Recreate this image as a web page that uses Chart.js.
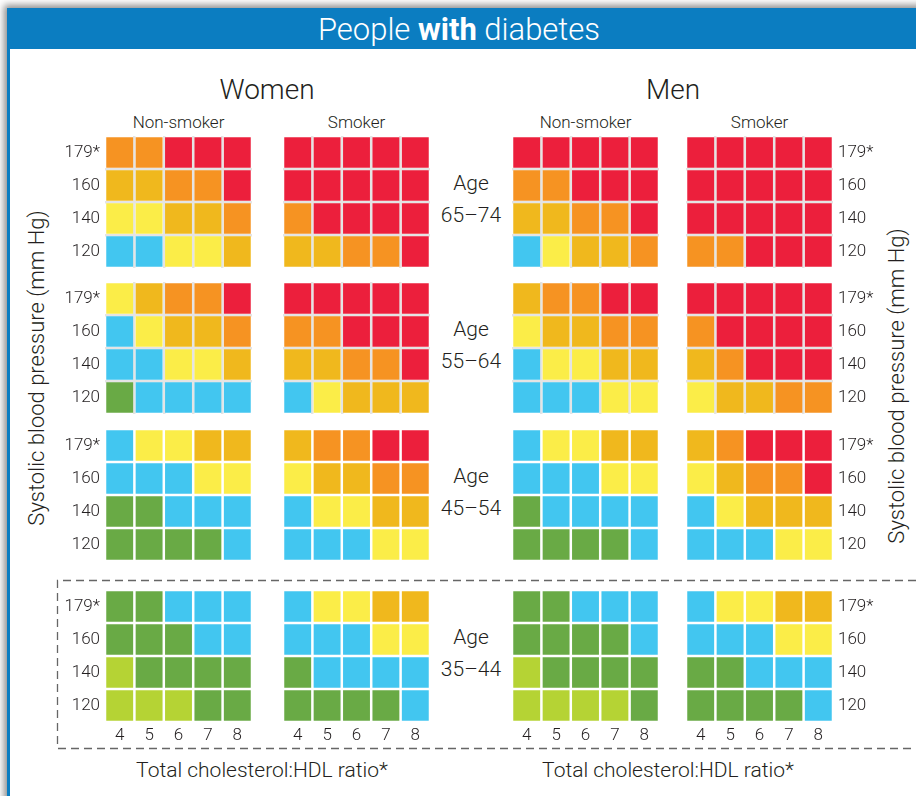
<!DOCTYPE html>
<html><head><meta charset="utf-8">
<script src="https://cdn.jsdelivr.net/npm/chart.js@4"></script>
<style>
html,body{margin:0;padding:0;background:#fff;width:916px;height:796px;overflow:hidden;font-family:Roboto,'Liberation Sans',sans-serif;font-weight:300;color:#231f20}
.card{position:absolute;left:7px;top:8px;width:1000px;height:900px;background:#fff;border-left:3px solid #0b7dc1;box-shadow:-3px -3px 7px rgba(0,0,0,0.45)}
.hdr{position:absolute;left:7px;top:8px;width:1000px;height:41px;background:#0b7dc1}
.t{position:absolute;white-space:nowrap;transform:translate(-50%,-50%);line-height:1}
.box{position:absolute}
</style></head><body>
<div class="card"></div>
<div class="hdr"></div>
<div id="texts"></div>
<svg width="916" height="796" style="position:absolute;left:0;top:0">
  <path d="M916,580.5 H57.5 V748.5 H916" fill="none" stroke="#666" stroke-width="1.3" stroke-dasharray="8 5"/>
</svg>
<div id="charts"></div>
<script>
// ---- data ----
const colLabels = ['4','5','6','7','8'];            // total cholesterol:HDL ratio
const bpLabels = ['179*','160','140','120'];         // systolic BP, top to bottom
const ageGroups = ['65–74','55–64','45–54','35–44'];
const sexes = ['Women','Men'];
const smoking = ['Non-smoker','Smoker'];
// risk level colours: 0 light green .. 6 red
const riskColors = ['#b5d334','#69aa45','#42c6f0','#fbed48','#f0b81d','#f69322','#ec1f3c'];

// risk levels, rows top (179*) to bottom (120), columns 4..8
const women_nonsmoker_65_74 = [[5,5,6,6,6],[4,4,5,5,6],[3,3,4,4,5],[2,2,3,3,4]];
const women_smoker_65_74    = [[6,6,6,6,6],[6,6,6,6,6],[5,6,6,6,6],[4,4,5,5,6]];
const men_nonsmoker_65_74   = [[6,6,6,6,6],[5,5,6,6,6],[4,4,5,5,6],[2,3,4,4,5]];
const men_smoker_65_74      = [[6,6,6,6,6],[6,6,6,6,6],[6,6,6,6,6],[5,5,6,6,6]];

const women_nonsmoker_55_64 = [[3,4,5,5,6],[2,3,4,4,5],[2,2,3,3,4],[1,2,2,2,2]];
const women_smoker_55_64    = [[6,6,6,6,6],[5,5,6,6,6],[4,4,5,5,6],[2,3,4,4,4]];
const men_nonsmoker_55_64   = [[4,5,5,6,6],[3,4,4,5,5],[2,3,3,4,4],[2,2,2,3,3]];
const men_smoker_55_64      = [[6,6,6,6,6],[5,6,6,6,6],[4,5,6,6,6],[3,4,4,5,5]];

const women_nonsmoker_45_54 = [[2,3,3,4,4],[2,2,2,3,3],[1,1,2,2,2],[1,1,1,1,2]];
const women_smoker_45_54    = [[4,5,5,6,6],[3,4,4,5,5],[2,3,3,4,4],[2,2,2,3,3]];
const men_nonsmoker_45_54   = [[2,3,3,4,4],[2,2,2,3,3],[1,2,2,2,2],[1,1,1,1,2]];
const men_smoker_45_54      = [[4,5,6,6,6],[3,4,5,5,6],[2,3,4,4,4],[2,2,2,3,3]];

const women_nonsmoker_35_44 = [[1,1,2,2,2],[1,1,1,2,2],[0,1,1,1,1],[0,0,0,1,1]];
const women_smoker_35_44    = [[2,3,3,4,4],[2,2,2,3,3],[1,2,2,2,2],[1,1,1,1,2]];
const men_nonsmoker_35_44   = [[1,1,2,2,2],[1,1,1,1,2],[0,1,1,1,1],[0,0,0,0,1]];
const men_smoker_35_44      = [[2,3,3,4,4],[2,2,2,3,3],[1,1,2,2,2],[1,1,1,1,2]];

const panelRows = [
  [women_nonsmoker_65_74, women_smoker_65_74, men_nonsmoker_65_74, men_smoker_65_74],
  [women_nonsmoker_55_64, women_smoker_55_64, men_nonsmoker_55_64, men_smoker_55_64],
  [women_nonsmoker_45_54, women_smoker_45_54, men_nonsmoker_45_54, men_smoker_45_54],
  [women_nonsmoker_35_44, women_smoker_35_44, men_nonsmoker_35_44, men_smoker_35_44]
];

// ---- layout ----
const gridX = [105, 283, 512, 686];
const gridY = [136, 282, 429, 590];
const GW = 147, GH = 132, AX = 60, BOT = 30, TOP = 4;
const FONT = "Roboto, 'Liberation Sans', sans-serif";
const TXT = '#231f20';

function addText(txt, x, y, size, extra) {
  const d = document.createElement('div');
  d.className = 't';
  d.style.left = x + 'px'; d.style.top = y + 'px'; d.style.fontSize = size + 'px';
  if (extra) Object.assign(d.style, extra);
  d.innerHTML = txt;
  document.getElementById('texts').appendChild(d);
}
addText('People <b style="font-weight:700">with</b> diabetes', 459, 29, 31, {color:'#fff'});
addText(sexes[0], 267, 90, 28);
addText(sexes[1], 673, 90, 28);
addText(smoking[0], gridX[0] + GW/2, 122, 17);
addText(smoking[1], gridX[1] + GW/2, 122, 17);
addText(smoking[0], gridX[2] + GW/2, 122, 17);
addText(smoking[1], gridX[3] + GW/2, 122, 17);
ageGroups.forEach((a, i) => {
  const c = gridY[i] + GH/2;
  addText('Age', 471, c - 19, 21);
  addText(a, 471, c + 13, 21);
});
addText('Systolic blood pressure (mm Hg)', 37, 368, 22, {transform:'translate(-50%,-50%) rotate(-90deg)'});
addText('Systolic blood pressure (mm Hg)', 897, 386, 22, {transform:'translate(-50%,-50%) rotate(-90deg)'});
addText('Total cholesterol:HDL ratio*', 262, 770, 21);
addText('Total cholesterol:HDL ratio*', 668, 770, 21);

Chart.defaults.animation = false;
const g = 0.038;

function makeChart(levels, col, row) {
  const leftAxis = col !== 3;
  const showY = col === 0 || col === 3;
  const showX = row === 3;
  const gapColor = row < 2 ? '#e4e4e4' : 'rgba(0,0,0,0)';
  const wrap = document.createElement('div');
  wrap.className = 'box';
  const W = AX + GW + AX, H = TOP + GH + BOT;
  wrap.style.left = (gridX[col] - AX) + 'px';
  wrap.style.top = (gridY[row] - TOP) + 'px';
  wrap.style.width = W + 'px'; wrap.style.height = H + 'px';
  const cv = document.createElement('canvas');
  cv.width = W; cv.height = H;
  cv.style.width = W + 'px'; cv.style.height = H + 'px';
  wrap.appendChild(cv);
  document.getElementById('charts').appendChild(wrap);

  const datasets = [];
  for (let r = 0; r < 4; r++) {
    const rowLevels = levels[3 - r];
    datasets.push({
      data: rowLevels.map(() => [r + g, r + 1 - g]),
      backgroundColor: rowLevels.map(l => riskColors[l]),
      borderWidth: 0,
      grouped: false,
      barPercentage: 1,
      categoryPercentage: 0.915
    });
  }
  const noPad = s => { s.paddingTop = 0; s.paddingBottom = 0; s.paddingLeft = 0; s.paddingRight = 0; };
  new Chart(cv, {
    type: 'bar',
    data: { labels: colLabels, datasets },
    options: {
      responsive: false,
      devicePixelRatio: 1,
      layout: { padding: { top: TOP, bottom: 0, left: leftAxis ? 0 : AX, right: leftAxis ? AX : 0 } },
      plugins: { legend: { display: false }, tooltip: { enabled: false }, title: { display: false } },
      scales: {
        x: {
          type: 'category', offset: true,
          grid: { offset: true, drawTicks: false, lineWidth: 2.5,
                  color: ctx => (ctx.type === 'tick' && ctx.index > 0) ? gapColor : 'rgba(0,0,0,0)' },
          border: { display: false },
          ticks: { display: showX, padding: 4, color: TXT, maxRotation: 0, font: { family: FONT, size: 17, weight: '300' } },
          afterFit: s => { s.height = BOT; noPad(s); }
        },
        y: {
          type: 'linear', min: 0, max: 4, position: leftAxis ? 'left' : 'right',
          afterBuildTicks: s => { s.ticks = [0,0.5,1,1.5,2,2.5,3,3.5,4].map(v => ({ value: v })); },
          grid: { drawTicks: false, lineWidth: 2.5,
                  color: ctx => (ctx.tick && Number.isInteger(ctx.tick.value) && ctx.tick.value > 0 && ctx.tick.value < 4) ? gapColor : 'rgba(0,0,0,0)' },
          border: { display: false },
          ticks: { display: showY, autoSkip: false, padding: 5, color: TXT,
                   font: { family: FONT, size: 17, weight: '300' },
                   callback: v => { const i = v - 0.5; return Number.isInteger(i) ? bpLabels[3 - i] : ''; } },
          afterFit: s => { s.width = AX; noPad(s); }
        }
      }
    }
  });
}

panelRows.forEach((rowPanels, row) => rowPanels.forEach((levels, col) => makeChart(levels, col, row)));
</script>
</body></html>
